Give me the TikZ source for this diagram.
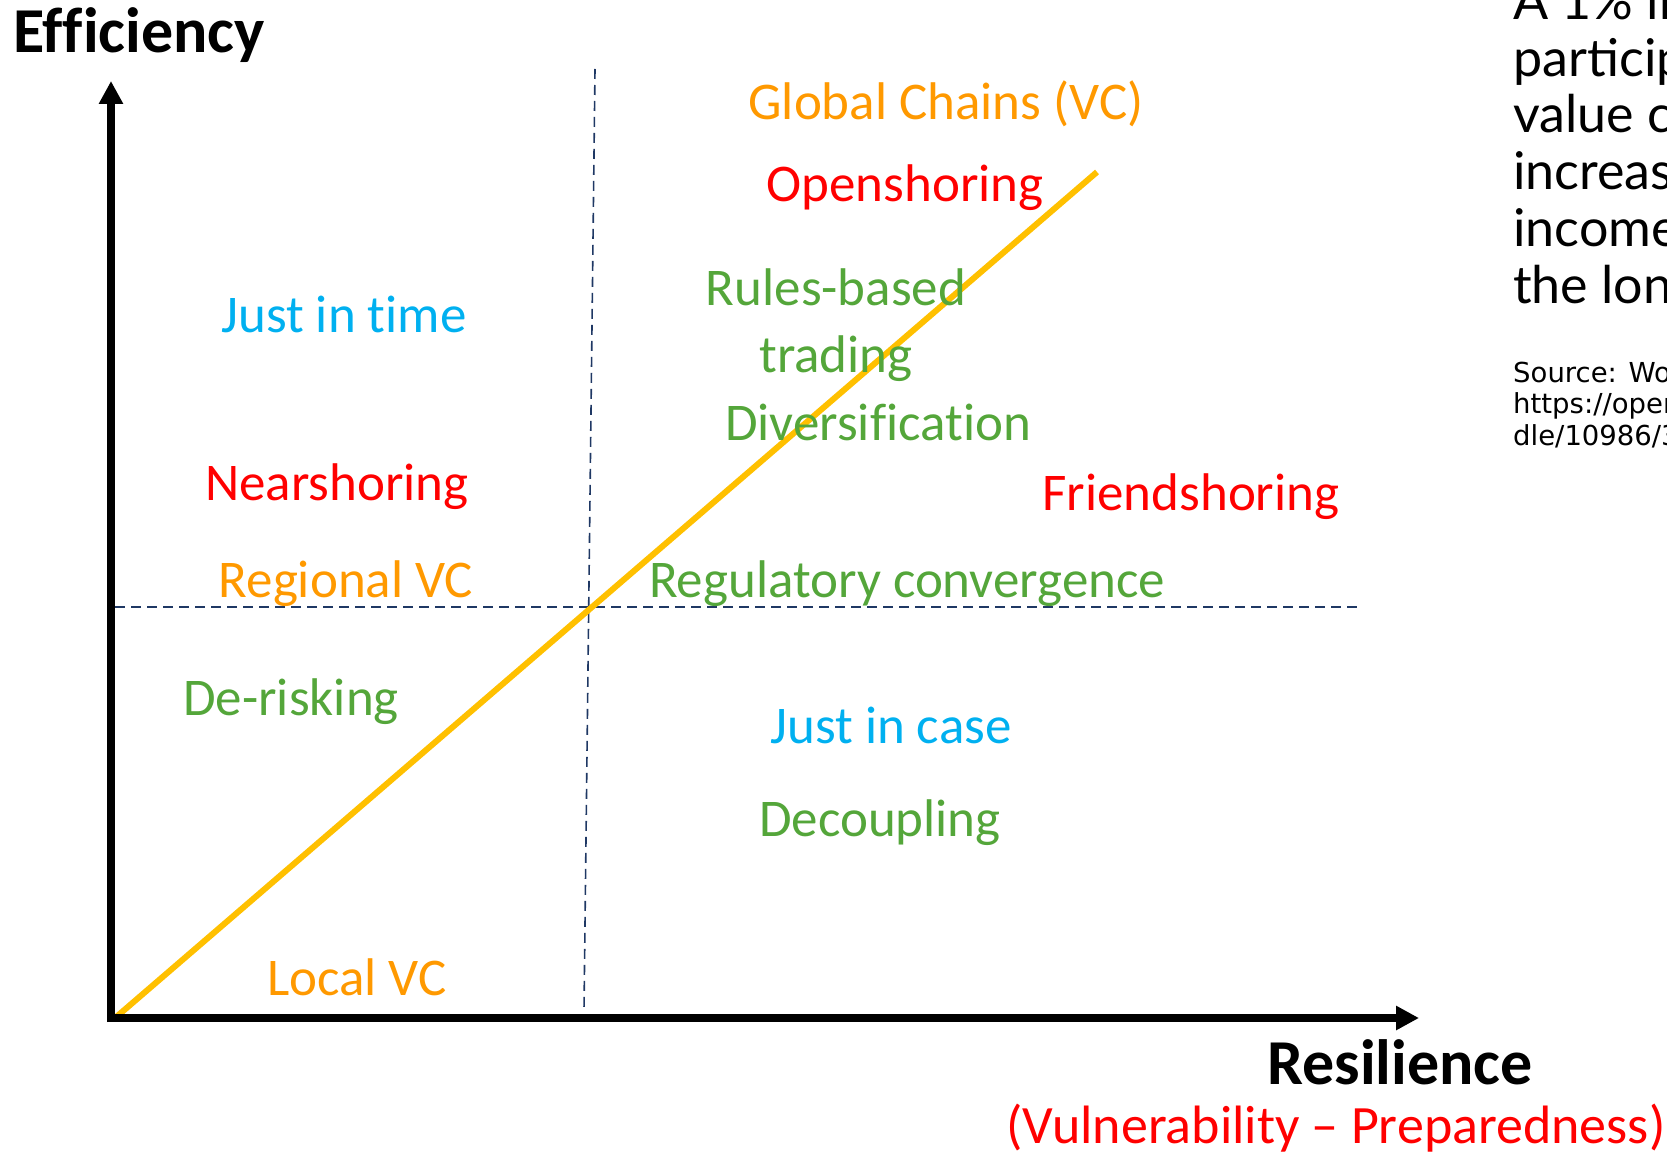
\documentclass[tikz,border=0pt]{standalone}
\usepackage{fontspec}
\setmainfont{Carlito}[Ligatures=NoCommon]
\newfontfamily\latofont{Lato}
\newfontfamily\notefont{DejaVu Sans}
\usetikzlibrary{arrows.meta}
\definecolor{cOrange}{HTML}{FF9900}
\definecolor{cGold}{HTML}{FFC000}
\definecolor{cRed}{HTML}{FF0000}
\definecolor{cGreen}{RGB}{84,166,58}
\definecolor{cCyan}{HTML}{00B0F0}
\definecolor{cNavy}{HTML}{1F3864}
\tikzset{
  lbl/.style={font=\fontsize{53}{60}\selectfont, inner sep=0pt, anchor=base},
  axislbl/.style={font=\fontsize{64}{70}\selectfont\bfseries, inner sep=0pt, anchor=base},
  side/.style={font=\latofont\fontsize{52}{57}\selectfont, inner sep=0pt, anchor=base west, text=black},
  srcnote/.style={font=\notefont\fontsize{27.5}{30}\selectfont, inner sep=0pt, anchor=base west, text=black},
  axisline/.style={line width=8pt, -{Triangle[length=23pt,width=23pt]}},
  guide/.style={cNavy, line width=1.6pt, dash pattern=on 10pt off 6pt},
  trend/.style={cGold, line width=6pt}
}
\begin{document}
\begin{tikzpicture}[x=1pt,y=-1pt]
\useasboundingbox (0,0) rectangle (1667,1155);
% coordinates
\coordinate (origin) at (111,1018);
\coordinate (ybot) at (111,1022);
\coordinate (ytop) at (111,81);
\coordinate (xleft) at (107,1018);
\coordinate (xright) at (1419,1018);
\coordinate (vtop) at (595,69);
\coordinate (vbot) at (584,1010);
\coordinate (hleft) at (115,607);
\coordinate (hright) at (1363,607);
\coordinate (tstart) at (115,1018);
\coordinate (tend) at (1097,172);
% guides
\draw[guide] (vtop) -- (vbot);
\draw[guide] (hleft) -- (hright);
% trend
\draw[trend] (tstart) -- (tend);
% axes
\draw[axisline] (ybot) -- (ytop);
\draw[axisline] (xleft) -- (xright);
% axis labels
\node[axislbl] (eff) at (139,53) {Efficiency};
\node[axislbl] (res) at (1400,1084) {Resilience};
\node[font=\fontsize{54}{60}\selectfont, inner sep=0pt, anchor=base, text=cRed] (vul) at (1336,1143) {(Vulnerability – Preparedness)};
% labels
\node[lbl, text=cOrange] (global) at (946,120) {Global Chains (VC)};
\node[lbl, text=cRed] (open) at (905,202) {Openshoring};
\node[lbl, text=cGreen] (rules) at (836,306) {Rules-based};
\node[lbl, text=cGreen] (trading) at (836,372) {trading};
\node[lbl, text=cCyan] (jit) at (344,333) {Just in time};
\node[lbl, text=cGreen] (div) at (878,440) {Diversification};
\node[lbl, text=cRed] (near) at (337,500) {Nearshoring};
\node[lbl, text=cRed] (friend) at (1191,510) {Friendshoring};
\node[lbl, text=cOrange] (regional) at (346,597) {Regional VC};
\node[lbl, text=cGreen] (reg) at (907,597) {Regulatory convergence};
\node[lbl, text=cGreen] (derisk) at (291,715) {De-risking};
\node[lbl, text=cCyan] (jic) at (891,743) {Just in case};
\node[lbl, text=cGreen] (decoup) at (880,836) {Decoupling};
\node[lbl, text=cOrange] (local) at (357,995) {Local VC};
% side text (cut by the page edge, as in the reference)
\begin{scope}
\clip (0,0) rectangle (1667,1155);
\node[side] (s1) at (1513,20) {A 1\% inc};
\node[side] (s2) at (1513,77) {particip};
\node[side] (s3) at (1513,133) {value ch};
\node[side] (s4) at (1513,190) {increase};
\node[side] (s5) at (1513,247) {income};
\node[side] (s6) at (1513,304) {the long};
\node[srcnote] (n1) at (1513,382) {Source: Wor};
\node[srcnote] (n2) at (1513,413) {https://oper};
\node[srcnote] (n3) at (1513,445) {dle/10986/3};
\end{scope}
\end{tikzpicture}
\end{document}
